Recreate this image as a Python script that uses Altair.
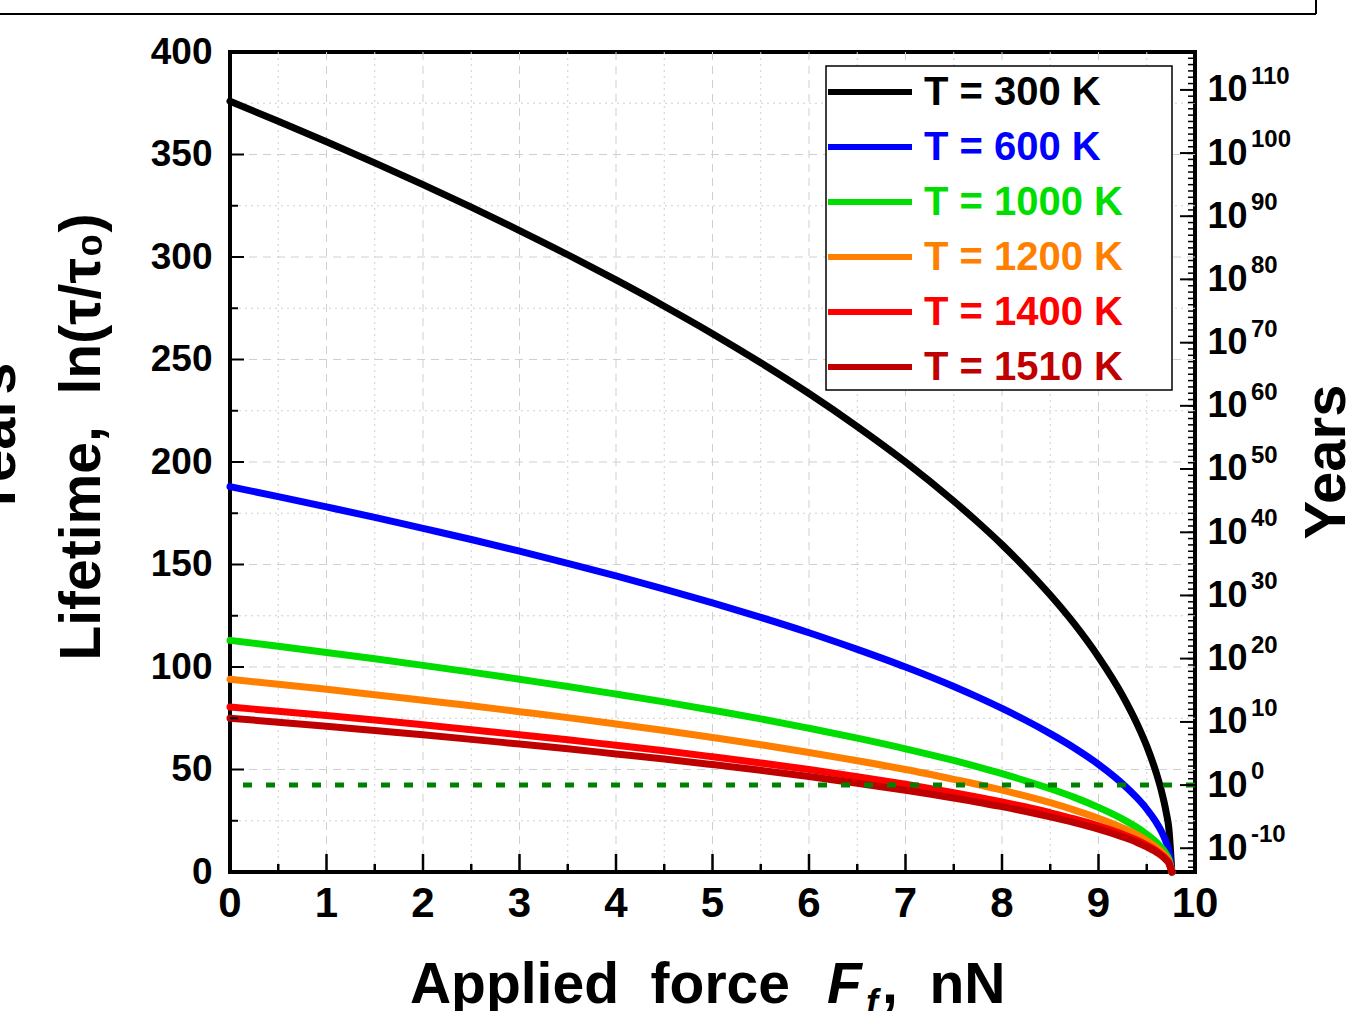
import altair as alt
import pandas as pd

# ---------------- data ----------------
force = [0, 0.5, 1, 1.5, 2, 2.5, 3, 3.5, 4, 4.5, 5, 5.5, 6, 6.5, 7, 7.5, 7.75, 8, 8.25, 8.5, 8.75,
         9, 9.25, 9.4, 9.5, 9.6, 9.65, 9.7, 9.73, 9.76]
t300 = [376, 366.2, 356.2, 345.9, 335.3, 324.3, 312.9, 301.1, 288.8, 276.0, 262.6, 248.4, 233.4, 217.3, 200.0, 180.9, 170.6, 159.7, 147.9, 135.1, 121.0,
        104.9, 86.0, 72.2, 61.4, 48.1, 39.9, 29.5, 20.8, 0]
t600 = [188, 183.1, 178.1, 173.0, 167.6, 162.2, 156.5, 150.6, 144.4, 138.0, 131.3, 124.2, 116.7, 108.6, 100.0, 90.5, 85.3, 79.8, 73.9, 67.5, 60.5,
        52.5, 43.0, 36.1, 30.7, 24.1, 20.0, 14.7, 10.4, 0]
t1000 = [113, 110.1, 107.1, 104.0, 100.8, 97.5, 94.0, 90.5, 86.8, 83.0, 78.9, 74.7, 70.1, 65.3, 60.1, 54.4, 51.3, 48.0, 44.4, 40.6, 36.4,
         31.5, 25.8, 21.7, 18.4, 14.5, 12.0, 8.9, 6.3, 0]
t1200 = [94, 91.6, 89.1, 86.5, 83.8, 81.1, 78.2, 75.3, 72.2, 69.0, 65.6, 62.1, 58.3, 54.3, 50.0, 45.2, 42.7, 39.9, 37.0, 33.8, 30.2,
         26.2, 21.5, 18.1, 15.3, 12.0, 10.0, 7.4, 5.2, 0]
t1400 = [80.5, 78.4, 76.3, 74.1, 71.8, 69.4, 67.0, 64.5, 61.8, 59.1, 56.2, 53.2, 50.0, 46.5, 42.8, 38.7, 36.5, 34.2, 31.7, 28.9, 25.9,
         22.5, 18.4, 15.5, 13.1, 10.3, 8.5, 6.3, 4.5, 0]
t1510 = [75, 73.1, 71.1, 69.0, 66.9, 64.7, 62.4, 60.1, 57.6, 55.1, 52.4, 49.6, 46.6, 43.3, 39.9, 36.1, 34.0, 31.9, 29.5, 26.9, 24.1,
         20.9, 17.1, 14.4, 12.2, 9.6, 8.0, 5.9, 4.2, 0]

series_labels = ["T = 300 K", "T = 600 K", "T = 1000 K", "T = 1200 K", "T = 1400 K", "T = 1510 K"]
series_colors = ["#000000", "#0000ff", "#00dd00", "#ff8000", "#ff0000", "#c00000"]
series_values = [t300, t600, t1000, t1200, t1400, t1510]

x_ticks = [0, 1, 2, 3, 4, 5, 6, 7, 8, 9, 10]
x_tick_labels = ["0", "1", "2", "3", "4", "5", "6", "7", "8", "9", "10"]
x_minor = [0.5, 1.5, 2.5, 3.5, 4.5, 5.5, 6.5, 7.5, 8.5, 9.5]
y_ticks = [0, 50, 100, 150, 200, 250, 300, 350, 400]
y_minor = [25, 75, 125, 175, 225, 275, 325, 375]

# right axis: lifetime in years, 10^exp
right_exp = ["-10", "0", "10", "20", "30", "40", "50", "60", "70", "80", "90", "100", "110"]
right_pos = [11.6, 42.4, 73.2, 104.1, 134.9, 165.7, 196.6, 227.4, 258.2, 289.1, 319.9, 350.7, 381.5]
decade_step = 3.083  # one decade on the ln axis
right_minor = [round(42.4 + e * decade_step, 2) for e in range(-13, 117)]
right_minor = [v for v in right_minor if 0 < v < 400]
one_year = [42.4]

NB = "\u00a0"
y_title = "Lifetime," + NB + NB + "ln(τ/τ₀)"
right_title = "Years"
x_title_a = "Applied" + NB + NB + "force"
x_title_f = "F"
x_title_sub = "f"
x_title_b = "," + NB + NB + "nN"

# ---------------- layout ----------------
W, H = 965, 820
FONT = "Liberation Sans, Arial"
GRID = "#cfcfcf"

xs = alt.Scale(domain=[0, 10], nice=False, zero=False)
ys = alt.Scale(domain=[0, 400], nice=False, zero=False)

def X(field):
    return alt.X(field, type="quantitative", scale=xs, axis=None)

def Y(field):
    return alt.Y(field, type="quantitative", scale=ys, axis=None)

layers = []

# grid
layers.append(alt.Chart(pd.DataFrame({"v": x_minor})).mark_rule(color=GRID, strokeWidth=1, strokeDash=[2, 4]).encode(x=X("v")))
layers.append(alt.Chart(pd.DataFrame({"v": x_ticks[1:-1]})).mark_rule(color=GRID, strokeWidth=1, strokeDash=[8, 6]).encode(x=X("v")))
layers.append(alt.Chart(pd.DataFrame({"v": y_minor})).mark_rule(color=GRID, strokeWidth=1, strokeDash=[2, 4]).encode(y=Y("v")))
layers.append(alt.Chart(pd.DataFrame({"v": y_ticks[1:-1]})).mark_rule(color=GRID, strokeWidth=1, strokeDash=[8, 6]).encode(y=Y("v")))

# curves
first = True
for lab, col, vals in zip(series_labels, series_colors, series_values):
    d = pd.DataFrame({"F": force, "L": vals, "T": lab})
    if first:
        ye = alt.Y("L:Q", scale=ys, axis=alt.Axis(values=y_ticks, ticks=False, domain=False, grid=False,
                    labelFont=FONT, labelFontSize=37, labelFontWeight="bold", labelColor="black",
                    labelPadding=18, labelOverlap=False, labelFlush=False, title=None))
        first = False
    else:
        ye = Y("L:Q")
    layers.append(alt.Chart(d).mark_line(color=col, strokeWidth=7, strokeCap="round", interpolate="monotone").encode(
        x=X("F:Q"), y=ye, order="F:Q"))

# one-year reference line
layers.append(alt.Chart(pd.DataFrame({"v": one_year})).mark_rule(color="#008000", strokeWidth=5, strokeDash=[9, 14]).encode(y=Y("v")))

# inward ticks
layers.append(alt.Chart(pd.DataFrame({"v": y_ticks})).mark_rule(color="black", strokeWidth=2).encode(y=Y("v"), x=alt.value(0), x2=alt.value(14)))
layers.append(alt.Chart(pd.DataFrame({"v": y_minor})).mark_rule(color="black", strokeWidth=2).encode(y=Y("v"), x=alt.value(0), x2=alt.value(8)))
layers.append(alt.Chart(pd.DataFrame({"v": x_ticks})).mark_rule(color="black", strokeWidth=2.5).encode(x=X("v"), y=alt.value(H), y2=alt.value(H - 18)))
layers.append(alt.Chart(pd.DataFrame({"v": x_minor})).mark_rule(color="black", strokeWidth=2.5).encode(x=X("v"), y=alt.value(H), y2=alt.value(H - 8)))
layers.append(alt.Chart(pd.DataFrame({"v": right_pos})).mark_rule(color="black", strokeWidth=2).encode(y=Y("v"), x=alt.value(W), x2=alt.value(W - 15)))
layers.append(alt.Chart(pd.DataFrame({"v": right_minor})).mark_rule(color="black", strokeWidth=1.5).encode(y=Y("v"), x=alt.value(W), x2=alt.value(W - 7)))

# x tick labels
layers.append(alt.Chart(pd.DataFrame({"v": x_ticks, "s": x_tick_labels})).mark_text(
    align="center", baseline="top", font=FONT, fontSize=42, fontWeight="bold", color="black").encode(
    x=X("v"), y=alt.value(H + 12), text="s:N"))

# right axis (10) + exponents
rdf = pd.DataFrame({"v": right_pos, "e": right_exp})
layers.append(alt.Chart(rdf).mark_text(align="left", baseline="middle", font=FONT, fontSize=24, fontWeight="bold", color="black", dy=-13).encode(
    y=alt.Y("v:Q", scale=ys, axis=alt.Axis(orient="right", values=right_pos, labelExpr="'10'", ticks=False, domain=False, grid=False,
            labelFont=FONT, labelFontSize=36, labelFontWeight="bold", labelColor="black", labelPadding=12,
            labelOverlap=False, labelFlush=False, title=None)),
    x=alt.value(1021), text="e:N"))

# legend box
layers.append(alt.Chart(pd.DataFrame({"a": [0]})).mark_rect(fill="white", stroke="black", strokeWidth=1.5).encode(
    x=alt.value(596), x2=alt.value(942), y=alt.value(14), y2=alt.value(338)))
leg = pd.DataFrame({"row": list(range(len(series_labels))), "label": series_labels, "color": series_colors})
ly = alt.Y("row:Q", scale=alt.Scale(domain=[0, 5], range=[40, 315]), axis=None)
layers.append(alt.Chart(leg).mark_rule(strokeWidth=6).encode(y=ly, x=alt.value(598), x2=alt.value(682), color=alt.Color("color:N", scale=None)))
layers.append(alt.Chart(leg).mark_text(align="left", baseline="middle", font=FONT, fontSize=40, fontWeight="bold", dy=1).encode(
    y=ly, x=alt.value(694), text="label:N", color=alt.Color("color:N", scale=None)))

# titles
def txt(s, x, y, **kw):
    return alt.Chart(pd.DataFrame({"t": [s]})).mark_text(**kw).encode(x=alt.value(x), y=alt.value(y), text="t:N")

layers.append(txt(y_title, -130, 385, angle=270, align="center", baseline="alphabetic", font=FONT, fontSize=57, fontWeight="bold", color="black"))
layers.append(txt(right_title, 1115, 410, angle=270, align="center", baseline="alphabetic", font=FONT, fontSize=58, fontWeight="bold", color="black"))
layers.append(txt(right_title, -215, 388, angle=270, align="center", baseline="alphabetic", font=FONT, fontSize=58, fontWeight="bold", color="black"))
layers.append(txt(x_title_a, 560, 951, align="right", baseline="alphabetic", font=FONT, fontSize=57, fontWeight="bold", color="black"))
layers.append(txt(x_title_f, 597, 951, align="left", baseline="alphabetic", font=FONT, fontSize=57, fontWeight="bold", fontStyle="italic", color="black"))
layers.append(txt(x_title_sub, 636, 963, align="left", baseline="alphabetic", font=FONT, fontSize=36, fontWeight="bold", fontStyle="italic", color="black"))
layers.append(txt(x_title_b, 652, 951, align="left", baseline="alphabetic", font=FONT, fontSize=57, fontWeight="bold", color="black"))

# cropped frame of a box above the chart
layers.append(alt.Chart(pd.DataFrame({"a": [0]})).mark_rule(color="black", strokeWidth=2).encode(x=alt.value(-230), x2=alt.value(1086), y=alt.value(-38)))
layers.append(alt.Chart(pd.DataFrame({"a": [0]})).mark_rule(color="black", strokeWidth=2).encode(x=alt.value(1086), y=alt.value(-52), y2=alt.value(-38)))

chart = alt.layer(*layers).resolve_scale(y="independent").properties(
    width=W, height=H,
    autosize=alt.AutoSizeParams(type="none"),
    padding={"left": 230, "top": 52, "right": 156, "bottom": 139},
    background="white",
).configure_view(stroke="black", strokeWidth=4)

chart.save("out.html", embed_options={"renderer": "svg", "actions": False})
